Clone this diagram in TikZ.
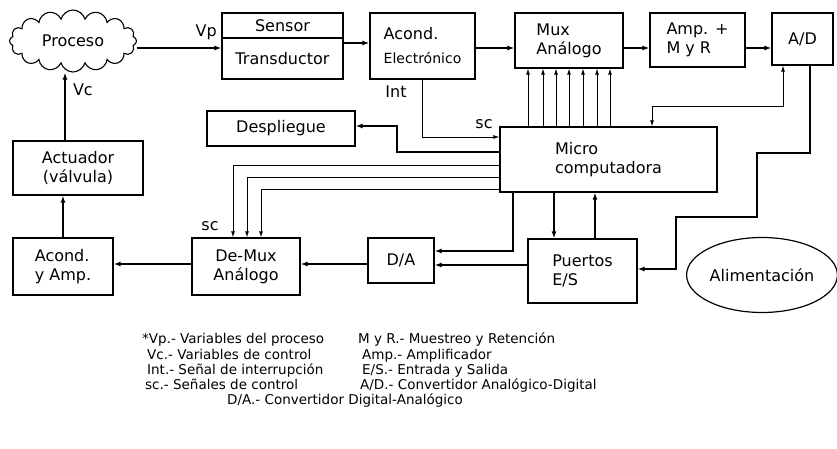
\documentclass[tikz,border=0pt]{standalone}
\usepackage{fontspec}
\setmainfont{DejaVu Sans}
\usetikzlibrary{arrows.meta,shapes.symbols,shapes.geometric}

\begin{document}
\begin{tikzpicture}[x=1pt, y=-1pt,
    box/.style={draw, line width=1.2pt, inner sep=2pt, align=left, font=\fontsize{16}{19}\selectfont},
    lbl/.style={font=\fontsize{16}{19}\selectfont, inner sep=1pt},
    leg/.style={anchor=base west, inner sep=0pt, font=\fontsize{13.5}{15}\selectfont},
    arr/.style={-{Latex[length=7pt,width=5pt]}, line width=2pt},
    mid/.style={-{Latex[length=7pt,width=5pt]}, line width=1.5pt},
    sig/.style={-{Latex[length=6pt,width=4pt]}, line width=0.9pt}
]
\useasboundingbox (0,0) rectangle (837,449);

% top row
\node[draw, cloud, cloud puffs=16, aspect=2.2, line width=1.1pt, minimum width=127pt, minimum height=62pt, lbl] (proc) at (73,41) {Proceso};
\node[box, minimum width=121pt, minimum height=25pt, align=center] (sens) at (282.5,25.5) {Sensor};
\node[box, minimum width=121pt, minimum height=41pt, align=center] (trans) at (282.5,58.5) {Transductor};
\node[box, minimum width=105pt, minimum height=66pt] (acon) at (422.5,46) {Acond.\\[5pt]{\fontsize{14}{16}\selectfont Electrónico}};
\node[box, minimum width=108pt, minimum height=55pt] (mux) at (569,40.5) {Mux\\Análogo};
\node[box, minimum width=95pt, minimum height=54pt] (amp) at (697.5,40) {Amp. +\\M y R};
\node[box, minimum width=61pt, minimum height=52pt] (ad) at (802.5,39) {A/D};

% middle
\node[box, minimum width=148pt, minimum height=35pt] (desp) at (281,128.5) {Despliegue};
\node[box, minimum width=217pt, minimum height=65pt] (micro) at (608.5,159.5) {Micro\\computadora};
\node[box, minimum width=130pt, minimum height=54pt, align=center] (act) at (78,168) {Actuador\\(válvula)};

% bottom row
\node[box, minimum width=100pt, minimum height=57pt] (acamp) at (63,266.5) {Acond.\\y Amp.};
\node[box, minimum width=108pt, minimum height=57pt, align=center] (demux) at (246,266.5) {De-Mux\\Análogo};
\node[box, minimum width=66pt, minimum height=45pt] (da) at (401,260.5) {D/A};
\node[box, minimum width=109pt, minimum height=64pt] (puer) at (582.5,271) {Puertos\\E/S};
\node[draw, ellipse, line width=1.2pt, minimum width=148pt, minimum height=75pt, lbl] (alim) at (762,275) {Alimentación};

% signals along the top
\draw[arr] (proc.east |- 0,48) -- node[lbl, pos=0.82, above=6pt] {Vp} (trans.west |- 0,48);
\draw[arr] (trans.east |- 0,43) -- (acon.west |- 0,43);
\draw[mid] (acon.east |- 0,48) -- (mux.west |- 0,48);
\draw[arr] (mux.east |- 0,48) -- (amp.west |- 0,48);
\draw[arr] (amp.east |- 0,48) -- (ad.west |- 0,48);

% bus micro -> mux
\foreach \bx in {528,543,556,569,583,597,610}
  \draw[sig] (micro.north -| \bx,0) -- (mux.south -| \bx,0);

% A/D links
\draw[sig, {Latex[length=6pt,width=4pt]}-{Latex[length=6pt,width=4pt]}] (ad.south -| 783,0) -- (783,106) -| (micro.north -| 652,0);
\draw[mid] (ad.south -| 810,0) -- (810,153) -- (757,153) -- (757,217) -- (676,217) -- (676,269) -- (puer.east |- 0,269);

% interrupt
\draw[sig] (acon.south -| 422,0) |- (micro.west |- 0,137);
\node[lbl] (int) at (396,92) {Int};
\node[lbl] (sc1) at (484,124) {sc};

% micro -> display
\draw[arr, line width=2.4pt] (micro.west |- 0,152) -- (397,152) -- (397,126) -- (desp.east |- 0,126);

% control lines to De-Mux
\draw[sig] (micro.west |- 0,165) -| (demux.north -| 233,0);
\draw[sig] (micro.west |- 0,177) -| (demux.north -| 247,0);
\draw[sig] (micro.west |- 0,189) -| (demux.north -| 261,0);
\node[lbl] (sc2) at (210,226) {sc};

% micro <-> ports, D/A
\draw[arr] (micro.south -| 554,0) -- (puer.north -| 554,0);
\draw[arr] (puer.north -| 595,0) -- (micro.south -| 595,0);
\draw[mid] (micro.south -| 513,0) |- (da.east |- 0,251);
\draw[arr] (puer.west |- 0,265) -- (da.east |- 0,265);
\draw[arr] (da.west |- 0,264) -- (demux.east |- 0,264);
\draw[arr] (demux.west |- 0,264) -- (acamp.east |- 0,264);
\draw[arr] (acamp.north -| 63,0) -- (act.south -| 63,0);
\draw[arr] (act.north -| 65,0) -- node[lbl, pos=0.75, right=6pt] {Vc} (proc.south -| 65,0);

% legend
\node[leg] (l1) at (142,343) {*Vp.- Variables del proceso};
\node[leg] (l2) at (147,359) {Vc.- Variables de control};
\node[leg] (l3) at (147,374) {Int.- Señal de interrupción};
\node[leg] (l4) at (145,389) {sc.- Señales de control};
\node[leg] (r1) at (358,343) {M y R.- Muestreo y Retención};
\node[leg] (r2) at (362,359) {Amp.- Amplificador};
\node[leg] (r3) at (362,374) {E/S.- Entrada y Salida};
\node[leg] (r4) at (360,389) {A/D.- Convertidor Analógico-Digital};
\node[leg, anchor=base] (l5) at (345,404) {D/A.- Convertidor Digital-Analógico};
\end{tikzpicture}
\end{document}
